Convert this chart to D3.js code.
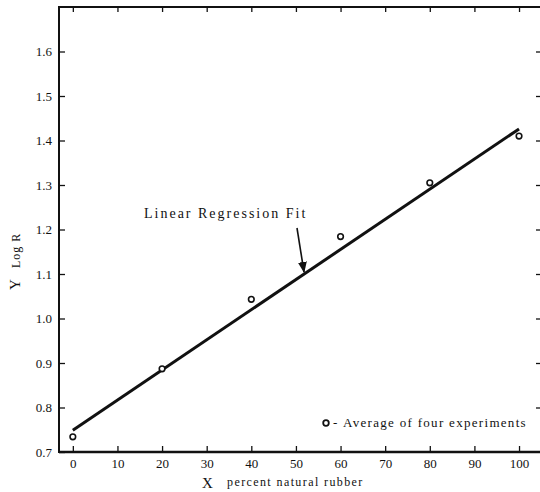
<!DOCTYPE html>
<html><head><meta charset="utf-8">
<script src="https://cdn.jsdelivr.net/npm/d3@7"></script>
<style>body{margin:0;background:#fff}svg{display:block}text{font-family:"Liberation Serif","DejaVu Serif",serif;fill:#111}</style>
</head><body><svg id="c" width="540" height="492"></svg>
<script>
const pctNatural = [0, 20, 40, 60, 80, 100];
const logR = [0.734, 0.887, 1.043, 1.184, 1.305, 1.41];
const fitX = [0, 100];
const fitY = [0.749, 1.426];
const xTicks = [0, 10, 20, 30, 40, 50, 60, 70, 80, 90, 100];
const yTicks = [0.7, 0.8, 0.9, 1.0, 1.1, 1.2, 1.3, 1.4, 1.5, 1.6];

const svg = d3.select("#c");
const x = d3.scaleLinear().domain([-3.1, 104.7]).range([59, 540]);
const y = d3.scaleLinear().domain([0.7, 1.7]).range([452, 7]);

// frame lines
svg.append("line").attr("x1", 59).attr("x2", 540).attr("y1", 452).attr("y2", 452).attr("stroke", "#111").attr("stroke-width", 2.5);
svg.append("line").attr("x1", 59).attr("x2", 59).attr("y1", 6).attr("y2", 453).attr("stroke", "#111").attr("stroke-width", 2);
svg.append("line").attr("x1", 59).attr("x2", 540).attr("y1", 7).attr("y2", 7).attr("stroke", "#111").attr("stroke-width", 2);

// bottom axis
const xb = svg.append("g").attr("transform", "translate(0,452)")
  .call(d3.axisBottom(x).tickValues(xTicks).tickSize(-6).tickPadding(7).tickFormat(d3.format("d")));
xb.select(".domain").remove();
xb.selectAll("line").attr("stroke", "#111").attr("stroke-width", 1.3);
xb.selectAll("text").style("font-size", "13px").style("font-family", "Liberation Serif, serif").attr("fill", "#111");

// top ticks
const xt = svg.append("g").attr("transform", "translate(0,7)")
  .call(d3.axisTop(x).tickValues(xTicks).tickSize(-5).tickFormat(""));
xt.select(".domain").remove();
xt.selectAll("line").attr("stroke", "#111").attr("stroke-width", 1.3);

// left axis
const yl = svg.append("g").attr("transform", "translate(59,0)")
  .call(d3.axisLeft(y).tickValues(yTicks).tickSize(-6).tickPadding(7).tickFormat(d3.format(".1f")));
yl.select(".domain").remove();
yl.selectAll("line").attr("stroke", "#111").attr("stroke-width", 1.3);
yl.selectAll("text").style("font-size", "13px").style("font-family", "Liberation Serif, serif").attr("fill", "#111");

// right tick marks
const yr = svg.append("g").attr("transform", "translate(540,0)")
  .call(d3.axisRight(y).tickValues(yTicks.slice(1)).tickSize(-4).tickFormat(""));
yr.select(".domain").remove();
yr.selectAll("line").attr("stroke", "#111").attr("stroke-width", 1.3);

// regression line
svg.append("path")
  .datum(fitX.map((d, i) => [d, fitY[i]]))
  .attr("d", d3.line().x(d => x(d[0])).y(d => y(d[1])))
  .attr("fill", "none").attr("stroke", "#111").attr("stroke-width", 3);

// data points
svg.selectAll("circle.pt").data(pctNatural).enter().append("circle")
  .attr("class", "pt")
  .attr("cx", d => x(d)).attr("cy", (d, i) => y(logR[i]))
  .attr("r", 2.8).attr("fill", "#fff").attr("stroke", "#111").attr("stroke-width", 1.6);

// annotation
svg.append("text").attr("x", 144).attr("y", 218).style("font-size", "14px").style("letter-spacing", "2px")
  .text("Linear Regression Fit");
svg.append("defs").append("marker").attr("id", "ah").attr("viewBox", "0 0 10 10").attr("refX", 9).attr("refY", 5)
  .attr("markerWidth", 7).attr("markerHeight", 7).attr("orient", "auto")
  .append("path").attr("d", "M0,1 L10,5 L0,9 Z").attr("fill", "#111");
svg.append("line").attr("x1", 297).attr("y1", 228).attr("x2", 304).attr("y2", 272)
  .attr("stroke", "#111").attr("stroke-width", 1.6).attr("marker-end", "url(#ah)");

// legend
svg.append("circle").attr("cx", 326).attr("cy", 423).attr("r", 2.8).attr("fill", "#fff").attr("stroke", "#111").attr("stroke-width", 1.8);
svg.append("text").attr("x", 333).attr("y", 427).style("font-size", "13px").text("-");
svg.append("text").attr("x", 343).attr("y", 427).style("font-size", "13px").style("letter-spacing", "1.3px")
  .text("Average of four experiments");

// axis titles
svg.append("text").attr("x", 202).attr("y", 488).style("font-size", "15px").text("X");
svg.append("text").attr("x", 227).attr("y", 486).style("font-size", "12px").style("letter-spacing", "1.4px").text("percent natural rubber");
svg.append("text").attr("transform", "translate(20,290) rotate(-90)").style("font-size", "15px").text("Y");
svg.append("text").attr("transform", "translate(20,268) rotate(-90)").style("font-size", "12px").style("letter-spacing", "1px").text("Log R");
</script></body></html>
